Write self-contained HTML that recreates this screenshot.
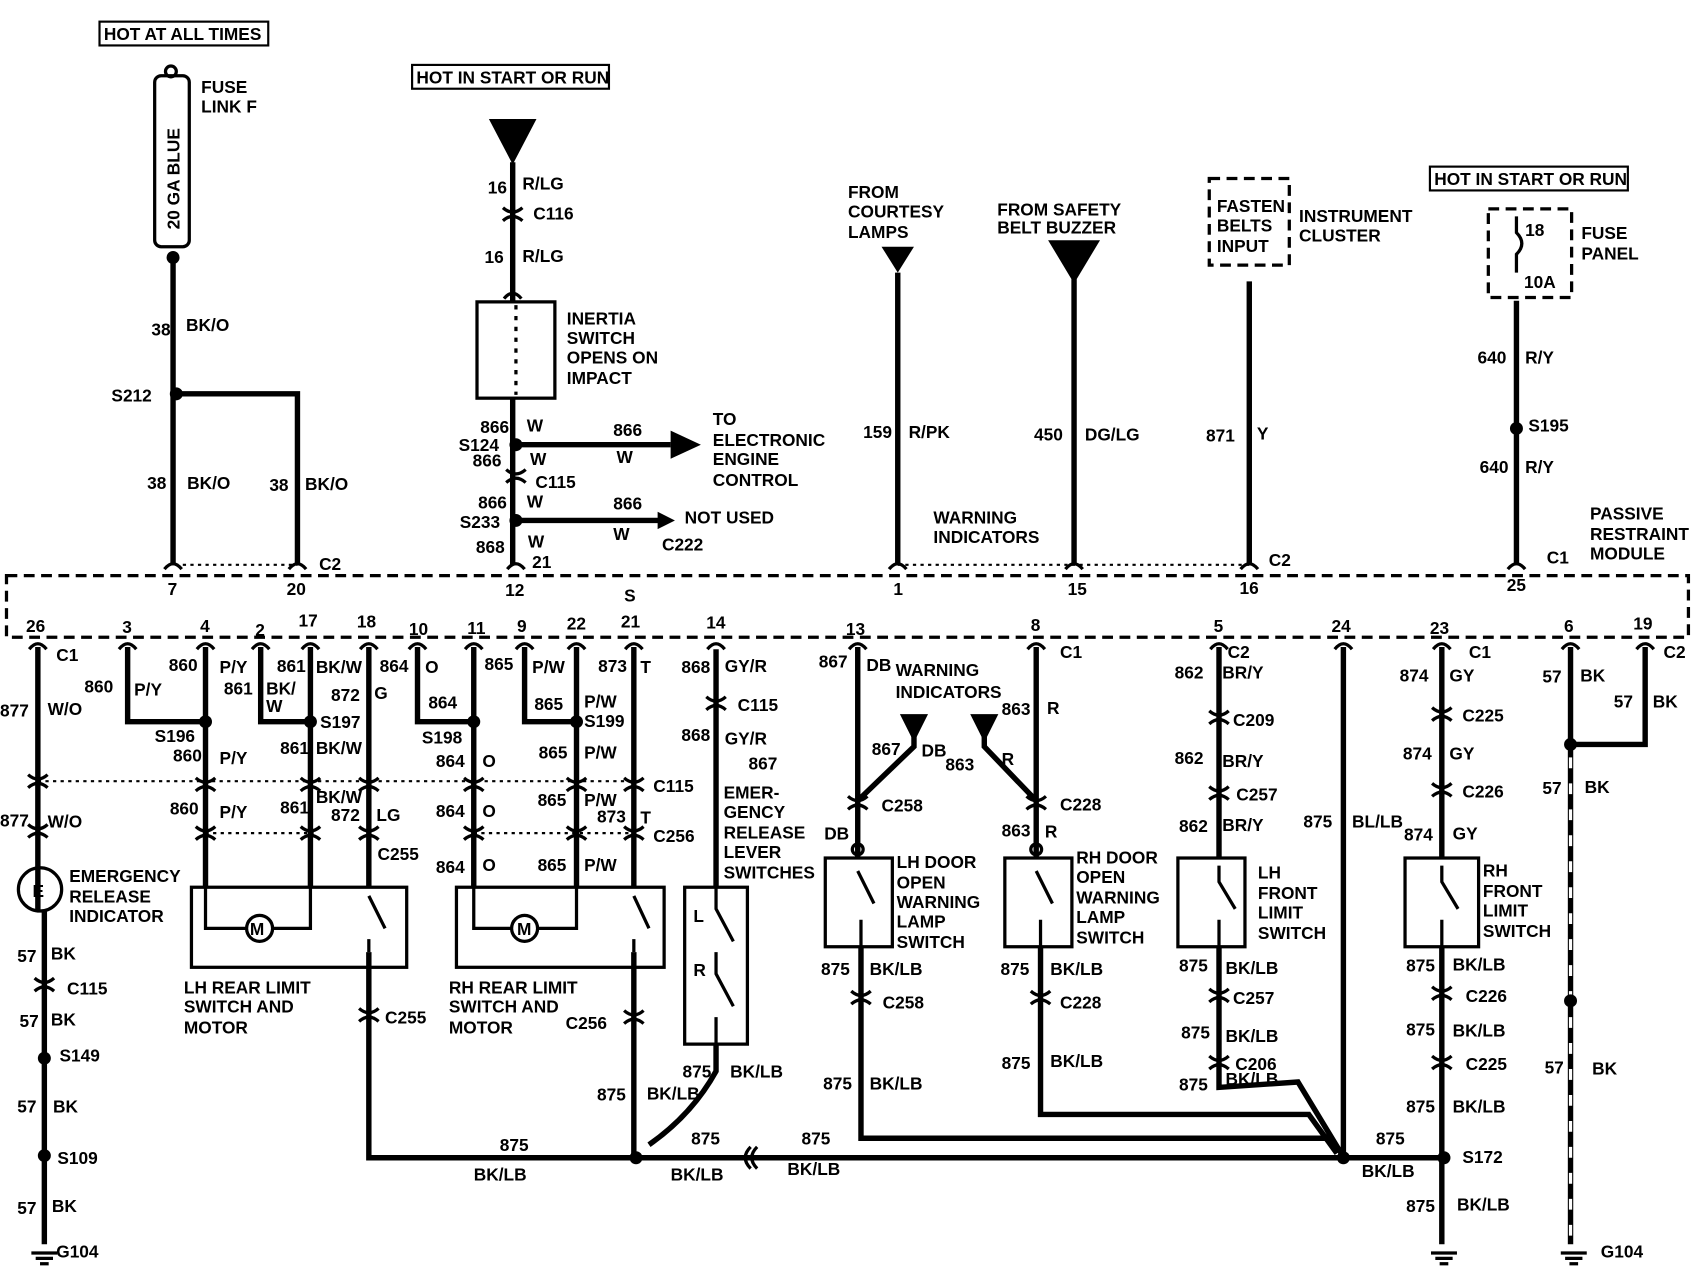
<!DOCTYPE html>
<html><head><meta charset="utf-8"><style>
html,body{margin:0;padding:0;background:#fff;}
svg{display:block}
text{font-family:"Liberation Sans",Arial,sans-serif;font-weight:bold;font-size:16px;fill:#000}
</style></head><body>
<svg width="1696" height="1280" viewBox="0 0 1568 1183" preserveAspectRatio="none" xmlns="http://www.w3.org/2000/svg">
<defs>
<g id="cn"><path d="M-8,4 Q0,-6 8,4" fill="none" stroke="#000" stroke-width="3"/></g>
<g id="cc"><path d="M-9,-6 Q0,2 9,-6 M-9,6 Q0,-2 9,6" fill="none" stroke="#000" stroke-width="3"/></g>
<g id="gnd"><path d="M-12,0 H12 M-8,5 H8 M-4,10 H4" stroke="#000" stroke-width="3"/></g>
</defs>
<g stroke="#000" stroke-width="5" fill="none" stroke-linecap="butt">
<rect x="6" y="532" width="1555" height="57" stroke-width="3" stroke-dasharray="10,6"/>
<path d="M160,238 V520 M163,364 H275 V520"/>
<path d="M474,150 V278 M474,368 V522 M477,411 H620 M477,481 H610"/>
<path d="M830,252 V520 M993,258 V520 M1155,260 V520 M1402,278 V520"/>
<path d="M35,598 V842 M41,842 V1150"/>
<path d="M118,598 V667 H190 M190,598 V820 M241,598 V667 H287 M287,598 V820"/>
<path d="M341,598 V820 M386,598 V667 H438 M438,598 V820 M485,598 V667 H533 M533,598 V820 M586,598 V820"/>
<path d="M341,880 V1070 H588 M586,880 V1070 M662,600 V820 M662,965 V990 Q640,1030 600,1058"/>
<path d="M588,1070 H1240 H1335"/>
<path d="M793,598 V792 M958,598 V792 M845,672 V690 L793,740 M910,672 V690 L958,740"/>
<path d="M796,875 V1052 H1230 M962,875 V1030 H1210 L1236,1066 M1127,598 V792 M1127,875 V1005 L1200,1000 L1240,1066 M1242,598 V1070"/>
<path d="M1333,598 V792 M1333,875 V1150 M1452,598 V1150" />
<path d="M1521,598 V688 H1452"/>
</g>
<path d="M1452,700 V1150" stroke="#fff" stroke-width="3" stroke-dasharray="10,14"/>
<g stroke="#000" stroke-width="2" stroke-dasharray="3,4">
<path d="M162,522 H275 M830,522 H1155 M35,722 H590 M190,770 H290 M438,770 H590"/>
</g>
<g>
<use href="#cn" x="160" y="522"/><use href="#cn" x="275" y="522"/><use href="#cn" x="477" y="522"/><use href="#cn" x="830" y="522"/><use href="#cn" x="993" y="522"/><use href="#cn" x="1155" y="522"/><use href="#cn" x="1402" y="522"/>
<use href="#cc" x="474" y="198"/><use href="#cn" x="474" y="272"/><use href="#cc" x="477" y="440"/>
<use href="#cc" x="35" y="722"/><use href="#cc" x="35" y="768"/><use href="#cc" x="190" y="725"/><use href="#cc" x="190" y="770"/><use href="#cc" x="287" y="725"/><use href="#cc" x="287" y="770"/><use href="#cc" x="341" y="725"/><use href="#cc" x="341" y="770"/>
<use href="#cc" x="438" y="725"/><use href="#cc" x="438" y="770"/><use href="#cc" x="533" y="725"/><use href="#cc" x="533" y="770"/><use href="#cc" x="586" y="725"/><use href="#cc" x="586" y="770"/>
<use href="#cc" x="662" y="650"/><use href="#cc" x="793" y="742"/><use href="#cc" x="958" y="742"/><use href="#cc" x="1127" y="663"/><use href="#cc" x="1127" y="733"/>
<use href="#cc" x="1333" y="660"/><use href="#cc" x="1333" y="730"/><use href="#cc" x="41" y="910"/><use href="#cc" x="341" y="938"/><use href="#cc" x="586" y="940"/>
<use href="#cc" x="796" y="922"/><use href="#cc" x="962" y="922"/><use href="#cc" x="1127" y="920"/><use href="#cc" x="1127" y="982"/><use href="#cc" x="1333" y="918"/><use href="#cc" x="1333" y="982"/>
<use href="#cn" x="35" y="596"/><use href="#cn" x="118" y="596"/><use href="#cn" x="190" y="596"/><use href="#cn" x="241" y="596"/><use href="#cn" x="287" y="596"/><use href="#cn" x="341" y="596"/><use href="#cn" x="386" y="596"/><use href="#cn" x="438" y="596"/><use href="#cn" x="485" y="596"/><use href="#cn" x="533" y="596"/><use href="#cn" x="586" y="596"/><use href="#cn" x="662" y="596"/><use href="#cn" x="793" y="596"/><use href="#cn" x="958" y="596"/><use href="#cn" x="1127" y="596"/><use href="#cn" x="1242" y="596"/><use href="#cn" x="1333" y="596"/><use href="#cn" x="1452" y="596"/><use href="#cn" x="1521" y="596"/>
</g>
<path d="M694,1060 Q684,1070 694,1080 M700,1060 Q690,1070 700,1080" stroke="#000" stroke-width="3" fill="none"/>
<g fill="#000">
<circle cx="163" cy="364" r="6"/><circle cx="477" cy="411" r="6"/><circle cx="477" cy="481" r="6"/><circle cx="1402" cy="396" r="6"/>
<circle cx="190" cy="667" r="6"/><circle cx="287" cy="667" r="6"/><circle cx="438" cy="667" r="6"/><circle cx="533" cy="667" r="6"/>
<circle cx="41" cy="978" r="6"/><circle cx="41" cy="1068" r="6"/><circle cx="588" cy="1070" r="6"/><circle cx="1242" cy="1070" r="6"/><circle cx="1335" cy="1070" r="6"/><circle cx="1452" cy="688" r="6"/><circle cx="1452" cy="925" r="6"/>
<circle cx="160" cy="238" r="6"/>
<path d="M452,110 H496 L474,152 Z"/><path d="M815,228 H845 L830,252 Z"/><path d="M969,222 H1017 L993,262 Z"/>
<path d="M832,660 H858 L845,686 Z"/><path d="M897,660 H923 L910,686 Z"/>
<path d="M620,398 L648,411 L620,424 Z"/><path d="M608,473 L624,481 L608,489 Z"/>
</g>
<g stroke="#000" stroke-width="3" fill="none">
<rect x="143" y="70" width="32" height="158" rx="6"/><circle cx="158" cy="66" r="5"/>
<rect x="441" y="279" width="72" height="89"/>
<path d="M477,282 V365" stroke-dasharray="4,6"/>
<rect x="1118" y="165" width="74" height="80" stroke-dasharray="10,6"/>
<rect x="1376" y="193" width="77" height="82" stroke-dasharray="10,6"/>
<path d="M1402,200 V215 Q1412,225 1402,235 V252"/>
<rect x="177" y="820" width="199" height="74"/><rect x="422" y="820" width="192" height="74"/>
<circle cx="240" cy="858" r="12"/><path d="M190,820 V858 H228 M252,858 H287 V820"/>
<circle cx="485" cy="858" r="12"/><path d="M438,820 V858 H473 M497,858 H533 V820"/>
<path d="M341,828 L356,858 M341,868 V880" /><path d="M586,828 L600,858 M586,868 V880"/>
<rect x="633" y="820" width="58" height="145"/><path d="M662,820 V840 L678,870 M662,880 V900 L678,930 M662,940 V965"/>
<rect x="763" y="793" width="62" height="82"/><path d="M793,805 L808,835 M796,850 V875"/><circle cx="793" cy="785" r="5"/>
<rect x="929" y="793" width="62" height="82"/><path d="M958,805 L973,835 M962,850 V875"/><circle cx="958" cy="785" r="5"/>
<rect x="1089" y="793" width="62" height="82"/><path d="M1127,800 V815 L1142,840 M1127,850 V875"/>
<rect x="1299" y="793" width="68" height="82"/><path d="M1333,800 V815 L1348,840 M1333,850 V875"/>
<circle cx="37" cy="822" r="20"/>
<rect x="92" y="20" width="156" height="22" stroke-width="2"/><rect x="381" y="60" width="182" height="22" stroke-width="2"/><rect x="1322" y="154" width="183" height="22" stroke-width="2"/>
</g>
<use href="#gnd" x="41" y="1158"/><use href="#gnd" x="1335" y="1158"/><use href="#gnd" x="1455" y="1158"/>
<g>
<text x="96" y="37">HOT AT ALL TIMES</text><text x="385" y="77">HOT IN START OR RUN</text><text x="1326" y="171">HOT IN START OR RUN</text>
<text x="186" y="86">FUSE</text><text x="186" y="104">LINK F</text>
<text transform="translate(166,212) rotate(-90)">20 GA BLUE</text>
<text x="140" y="310">38</text><text x="172" y="306">BK/O</text><text x="103" y="371">S212</text>
<text x="136" y="452">38</text><text x="173" y="452">BK/O</text><text x="249" y="454">38</text><text x="282" y="453">BK/O</text>
<text x="155" y="550">7</text><text x="265" y="550">20</text><text x="295" y="527">C2</text>
<text x="451" y="179">16</text><text x="483" y="175">R/LG</text><text x="493" y="203">C116</text><text x="448" y="243">16</text><text x="483" y="242">R/LG</text>
<text x="524" y="300">INERTIA</text><text x="524" y="318">SWITCH</text><text x="524" y="336">OPENS ON</text><text x="524" y="355">IMPACT</text>
<text x="444" y="400">866</text><text x="487" y="399">W</text><text x="424" y="417">S124</text><text x="437" y="431">866</text><text x="490" y="430">W</text><text x="495" y="451">C115</text>
<text x="442" y="470">866</text><text x="487" y="469">W</text><text x="425" y="488">S233</text><text x="440" y="511">868</text><text x="488" y="506">W</text><text x="492" y="525">21</text><text x="467" y="551">12</text>
<text x="567" y="403">866</text><text x="570" y="428">W</text><text x="659" y="393">TO</text><text x="659" y="412">ELECTRONIC</text><text x="659" y="430">ENGINE</text><text x="659" y="449">CONTROL</text>
<text x="567" y="471">866</text><text x="567" y="499">W</text><text x="633" y="484">NOT USED</text><text x="612" y="509">C222</text><text x="577" y="556">S</text>
<text x="784" y="183">FROM</text><text x="784" y="201">COURTESY</text><text x="784" y="220">LAMPS</text>
<text x="922" y="199">FROM SAFETY</text><text x="922" y="216">BELT BUZZER</text>
<text x="1125" y="196">FASTEN</text><text x="1125" y="214">BELTS</text><text x="1125" y="233">INPUT</text><text x="1201" y="205">INSTRUMENT</text><text x="1201" y="223">CLUSTER</text>
<text x="1410" y="218">18</text><text x="1409" y="266">10A</text><text x="1462" y="221">FUSE</text><text x="1462" y="240">PANEL</text>
<text x="798" y="405">159</text><text x="840" y="405">R/PK</text><text x="956" y="407">450</text><text x="1003" y="407">DG/LG</text><text x="1115" y="408">871</text><text x="1162" y="406">Y</text>
<text x="1366" y="336">640</text><text x="1410" y="336">R/Y</text><text x="1413" y="399">S195</text><text x="1368" y="437">640</text><text x="1410" y="437">R/Y</text>
<text x="863" y="484">WARNING</text><text x="863" y="502">INDICATORS</text><text x="1470" y="480">PASSIVE</text><text x="1470" y="499">RESTRAINT</text><text x="1470" y="517">MODULE</text>
<text x="826" y="550">1</text><text x="987" y="550">15</text><text x="1146" y="549">16</text><text x="1173" y="523">C2</text><text x="1393" y="546">25</text><text x="1430" y="521">C1</text>
<text x="24" y="584">26</text><text x="113" y="585">3</text><text x="185" y="584">4</text><text x="236" y="588">2</text><text x="276" y="579">17</text><text x="330" y="580">18</text><text x="378" y="587">10</text><text x="432" y="586">11</text><text x="478" y="584">9</text><text x="524" y="582">22</text><text x="574" y="580">21</text><text x="653" y="581">14</text><text x="782" y="587">13</text><text x="953" y="583">8</text><text x="1122" y="584">5</text><text x="1231" y="584">24</text><text x="1322" y="586">23</text><text x="1446" y="584">6</text><text x="1510" y="582">19</text>
<text x="52" y="611">C1</text><text x="78" y="640">860</text><text x="124" y="643">P/Y</text><text x="0" y="662">877</text><text x="44" y="661">W/O</text>
<text x="156" y="620">860</text><text x="203" y="622">P/Y</text><text x="207" y="642">861</text><text x="246" y="642">BK/</text><text x="246" y="658">W</text>
<text x="256" y="621">861</text><text x="292" y="622">BK/W</text><text x="351" y="621">864</text><text x="393" y="622">O</text><text x="306" y="648">872</text><text x="346" y="646">G</text>
<text x="143" y="686">S196</text><text x="296" y="673">S197</text><text x="390" y="687">S198</text><text x="540" y="672">S199</text><text x="396" y="655">864</text><text x="494" y="656">865</text>
<text x="448" y="619">865</text><text x="492" y="622">P/W</text><text x="553" y="621">873</text><text x="592" y="622">T</text><text x="540" y="654">P/W</text>
<text x="160" y="704">860</text><text x="203" y="706">P/Y</text><text x="259" y="697">861</text><text x="292" y="697">BK/W</text><text x="403" y="709">864</text><text x="446" y="709">O</text><text x="498" y="701">865</text><text x="540" y="701">P/W</text>
<text x="604" y="732">C115</text><text x="292" y="742">BK/W</text><text x="497" y="745">865</text><text x="540" y="745">P/W</text>
<text x="157" y="753">860</text><text x="203" y="756">P/Y</text><text x="259" y="752">861</text><text x="306" y="759">872</text><text x="348" y="759">LG</text><text x="403" y="755">864</text><text x="446" y="755">O</text><text x="552" y="760">873</text><text x="592" y="761">T</text><text x="604" y="778">C256</text><text x="0" y="764">877</text><text x="44" y="765">W/O</text><text x="349" y="795">C255</text>
<text x="403" y="807">864</text><text x="446" y="805">O</text><text x="497" y="805">865</text><text x="540" y="805">P/W</text>
<text x="64" y="815">EMERGENCY</text><text x="64" y="834">RELEASE</text><text x="64" y="852">INDICATOR</text>
<text x="16" y="889">57</text><text x="47" y="887">BK</text><text x="62" y="919">C115</text><text x="18" y="949">57</text><text x="47" y="948">BK</text><text x="55" y="981">S149</text><text x="16" y="1028">57</text><text x="49" y="1028">BK</text><text x="53" y="1076">S109</text><text x="16" y="1122">57</text><text x="48" y="1120">BK</text><text x="52" y="1162">G104</text>
<text x="170" y="918">LH REAR LIMIT</text><text x="170" y="936">SWITCH AND</text><text x="170" y="955">MOTOR</text><text x="356" y="946">C255</text>
<text x="415" y="918">RH REAR LIMIT</text><text x="415" y="936">SWITCH AND</text><text x="415" y="955">MOTOR</text><text x="523" y="951">C256</text>
<text x="231" y="864" font-size="11">M</text><text x="478" y="864" font-size="11">M</text><text x="30" y="829" font-size="14">E</text>
<text x="630" y="622">868</text><text x="670" y="621">GY/R</text><text x="682" y="657">C115</text><text x="630" y="685">868</text><text x="670" y="688">GY/R</text><text x="692" y="711">867</text>
<text x="669" y="738">EMER-</text><text x="669" y="756">GENCY</text><text x="669" y="775">RELEASE</text><text x="669" y="793">LEVER</text><text x="669" y="812">SWITCHES</text>
<text x="641" y="852">L</text><text x="641" y="902">R</text>
<text x="631" y="996">875</text><text x="675" y="996">BK/LB</text><text x="552" y="1017">875</text><text x="598" y="1016">BK/LB</text>
<text x="462" y="1064">875</text><text x="438" y="1091">BK/LB</text><text x="639" y="1058">875</text><text x="620" y="1091">BK/LB</text><text x="741" y="1058">875</text><text x="728" y="1086">BK/LB</text>
<text x="757" y="617">867</text><text x="801" y="620">DB</text><text x="828" y="625">WARNING</text><text x="828" y="645">INDICATORS</text><text x="980" y="608">C1</text>
<text x="806" y="698">867</text><text x="852" y="699">DB</text><text x="874" y="712">863</text><text x="926" y="707">R</text><text x="926" y="661">863</text><text x="968" y="660">R</text>
<text x="815" y="750">C258</text><text x="762" y="776">DB</text><text x="980" y="749">C228</text><text x="926" y="773">863</text><text x="966" y="774">R</text>
<text x="829" y="802">LH DOOR</text><text x="829" y="821">OPEN</text><text x="829" y="839">WARNING</text><text x="829" y="857">LAMP</text><text x="829" y="876">SWITCH</text>
<text x="995" y="798">RH DOOR</text><text x="995" y="816">OPEN</text><text x="995" y="835">WARNING</text><text x="995" y="853">LAMP</text><text x="995" y="872">SWITCH</text>
<text x="759" y="901">875</text><text x="804" y="901">BK/LB</text><text x="816" y="932">C258</text><text x="925" y="901">875</text><text x="971" y="901">BK/LB</text><text x="980" y="932">C228</text>
<text x="761" y="1007">875</text><text x="804" y="1007">BK/LB</text><text x="926" y="988">875</text><text x="971" y="986">BK/LB</text>
<text x="1086" y="627">862</text><text x="1130" y="627">BR/Y</text><text x="1135" y="608">C2</text><text x="1140" y="671">C209</text><text x="1086" y="706">862</text><text x="1130" y="709">BR/Y</text><text x="1143" y="740">C257</text><text x="1090" y="769">862</text><text x="1130" y="768">BR/Y</text>
<text x="1163" y="812">LH</text><text x="1163" y="831">FRONT</text><text x="1163" y="849">LIMIT</text><text x="1163" y="868">SWITCH</text>
<text x="1090" y="898">875</text><text x="1133" y="900">BK/LB</text><text x="1140" y="928">C257</text><text x="1092" y="960">875</text><text x="1133" y="963">BK/LB</text><text x="1142" y="989">C206</text><text x="1090" y="1008">875</text><text x="1133" y="1003">BK/LB</text>
<text x="1205" y="765">875</text><text x="1250" y="765">BL/LB</text><text x="1272" y="1058">875</text><text x="1259" y="1088">BK/LB</text>
<text x="1294" y="630">874</text><text x="1340" y="630">GY</text><text x="1358" y="608">C1</text><text x="1352" y="667">C225</text><text x="1297" y="702">874</text><text x="1340" y="702">GY</text><text x="1352" y="737">C226</text><text x="1298" y="777">874</text><text x="1343" y="776">GY</text>
<text x="1371" y="810">RH</text><text x="1371" y="829">FRONT</text><text x="1371" y="847">LIMIT</text><text x="1371" y="866">SWITCH</text>
<text x="1300" y="898">875</text><text x="1343" y="897">BK/LB</text><text x="1355" y="926">C226</text><text x="1300" y="957">875</text><text x="1343" y="958">BK/LB</text><text x="1355" y="989">C225</text>
<text x="1300" y="1028">875</text><text x="1343" y="1028">BK/LB</text><text x="1352" y="1075">S172</text><text x="1300" y="1120">875</text><text x="1347" y="1119">BK/LB</text>
<text x="1426" y="631">57</text><text x="1461" y="630">BK</text><text x="1538" y="608">C2</text><text x="1492" y="654">57</text><text x="1528" y="654">BK</text>
<text x="1426" y="734">57</text><text x="1465" y="733">BK</text><text x="1428" y="992">57</text><text x="1472" y="993">BK</text><text x="1480" y="1162">G104</text>
</g>
</svg>
</body></html>
